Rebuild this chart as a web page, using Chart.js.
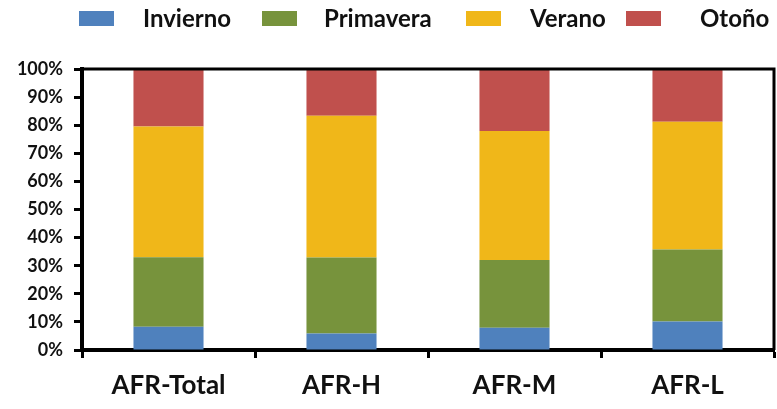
<!DOCTYPE html>
<html>
<head>
<meta charset="utf-8">
<script src="https://cdn.jsdelivr.net/npm/chart.js@4"></script>
<style>
  html, body { margin: 0; padding: 0; background: #fff; }
  #wrap { position: relative; width: 777px; height: 409px; }
  #legend { position: absolute; top: 0; left: 0; width: 777px; height: 40px; font-family: Lato, sans-serif; font-weight: 700; font-size: 24px; color: #111; }
  .box { position: absolute; width: 35px; height: 15px; }
  .lbl { position: absolute; white-space: nowrap; line-height: 28px; }
</style>
</head>
<body>
<div id="wrap">
  <canvas id="chart" width="777" height="409"></canvas>
  <div id="legend"></div>
</div>
<script>
// categorias e séries (% por estação)
const categories = ['AFR-Total', 'AFR-H', 'AFR-M', 'AFR-L'];
const invierno  = [8.3, 5.9, 7.9, 10.1];
const primavera = [24.7, 27.0, 24.1, 25.7];
const verano    = [46.5, 50.5, 45.9, 45.4];
const otono     = [20.5, 16.6, 22.1, 18.8];
const seriesNames = ['Invierno', 'Primavera', 'Verano', 'Otoño'];
const colors = ['#4F81BD', '#77933C', '#F0B719', '#C0504D'];

// legenda em HTML (posições)
const legendPos = [[79, 143], [262, 324], [466, 530], [626, 700]];
const legend = document.getElementById('legend');
seriesNames.forEach((name, i) => {
    const box = document.createElement('div');
    box.className = 'box';
    box.style.left = legendPos[i][0] + 'px';
    box.style.top = '11px';
    box.style.background = colors[i];
    legend.appendChild(box);
    const lbl = document.createElement('div');
    lbl.className = 'lbl';
    lbl.style.left = legendPos[i][1] + 'px';
    lbl.style.top = '4px';
    lbl.textContent = name;
    legend.appendChild(lbl);
});

// moldura superior e direita
const frame = {
    id: 'frame',
    afterDraw(chart) {
        const { ctx, chartArea: a } = chart;
        ctx.save();
        ctx.strokeStyle = '#000';
        ctx.lineWidth = 3;
        ctx.beginPath();
        ctx.moveTo(a.left, a.top);
        ctx.lineTo(a.right, a.top);
        ctx.lineTo(a.right, a.bottom);
        ctx.stroke();
        ctx.restore();
    }
};

const data = [invierno, primavera, verano, otono];

new Chart(document.getElementById('chart'), {
    type: 'bar',
    data: {
        labels: categories,
        datasets: seriesNames.map((name, i) => ({
            label: name,
            data: data[i],
            backgroundColor: colors[i],
            borderWidth: 0,
            barPercentage: 0.405,
            categoryPercentage: 1
        }))
    },
    options: {
        responsive: false,
        animation: false,
        layout: { padding: { top: 69, right: 3, left: 0, bottom: 0 } },
        plugins: { legend: { display: false }, tooltip: { enabled: false } },
        scales: {
            x: {
                stacked: true,
                afterFit: (s) => { s.height = 59; },
                border: { color: '#000', width: 4 },
                grid: { drawOnChartArea: false, tickLength: 8, tickWidth: 3, tickColor: '#000' },
                ticks: { color: '#111', padding: 12, font: { family: 'Lato', weight: 'bold', size: 26 } }
            },
            y: {
                stacked: true,
                min: 0,
                max: 100,
                afterFit: (s) => { s.width = 82; },
                border: { color: '#000', width: 4 },
                grid: { drawOnChartArea: false, tickLength: 8, tickWidth: 3, tickColor: '#000' },
                ticks: {
                    stepSize: 10,
                    color: '#111',
                    padding: 11,
                    font: { family: 'Lato', weight: 'bold', size: 18 },
                    callback: (v) => v + '%'
                }
            }
        }
    },
    plugins: [frame]
});
</script>
</body>
</html>
